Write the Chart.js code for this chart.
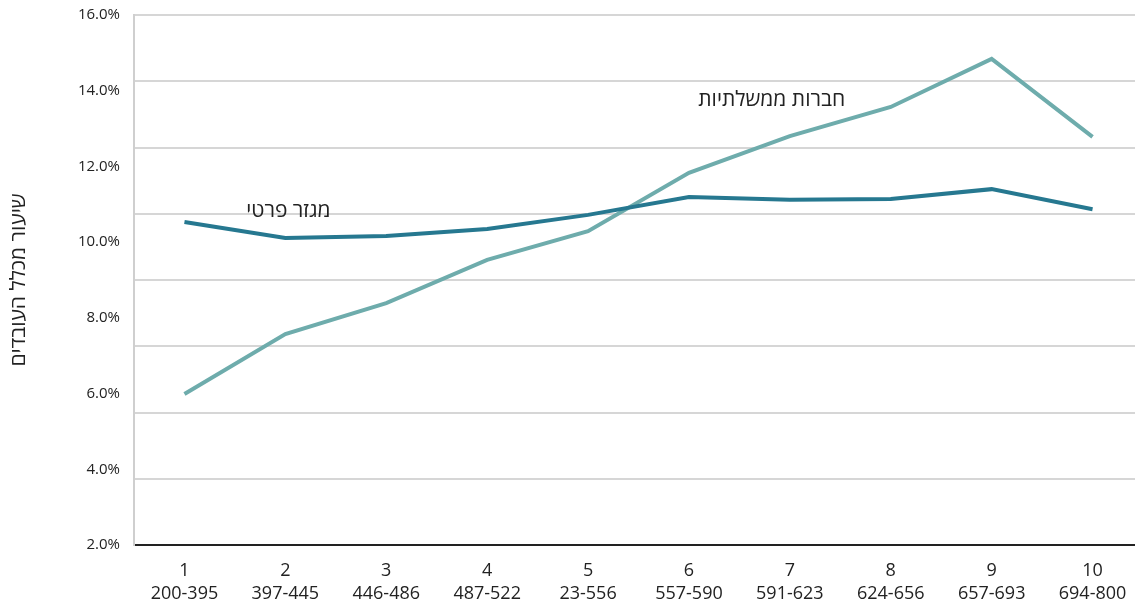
<!DOCTYPE html>
<html>
<head>
<meta charset="utf-8">
<title>שיעור מכלל העובדים</title>
<style>
  html, body { margin: 0; padding: 0; background: #fff; overflow: hidden; }
  #wrap { width: 1145px; height: 604px; }
</style>
</head>
<body>
<div id="wrap"><canvas id="myChart"></canvas></div>
<script src="https://cdn.jsdelivr.net/npm/chart.js"></script>
<script>
// עשירונים וטווחי שכר
const deciles = ['1', '2', '3', '4', '5', '6', '7', '8', '9', '10'];
const ranges = ['200-395', '397-445', '446-486', '487-522', '23-556', '557-590', '591-623', '624-656', '657-693', '694-800'];

// שיעור מכלל העובדים (%)
const privateSector = [10.53, 10.11, 10.16, 10.35, 10.72, 11.19, 11.12, 11.14, 11.40, 10.87];
const govCompanies = [5.99, 7.57, 8.39, 9.53, 10.29, 11.83, 12.80, 13.57, 14.84, 12.78];

const yMin = 2, yMax = 16, labelStep = 2, gridStep = 1.75;

const fontFamily = "'Open Sans', 'DejaVu Sans', sans-serif";

// תוויות הסדרות בתוך הגרף
const seriesNotes = [
  { text: 'חברות ממשלתיות', x: 5.82, y: 13.75 },
  { text: 'מגזר פרטי', x: 1.03, y: 10.82 }
];

const notesPlugin = {
  id: 'notes',
  afterDatasetsDraw(chart) {
    const ctx = chart.ctx;
    const xs = chart.scales.x, ys = chart.scales.y;
    ctx.save();
    ctx.font = '21px ' + fontFamily;
    ctx.fillStyle = '#222';
    ctx.textAlign = 'center';
    ctx.textBaseline = 'middle';
    seriesNotes.forEach(n => {
      ctx.fillText(n.text, xs.getPixelForValue(n.x), ys.getPixelForValue(n.y));
    });
    ctx.restore();
  }
};

const ctx = document.getElementById('myChart');
new Chart(ctx, {
  type: 'line',
  data: {
    labels: deciles.map((d, i) => [d, ranges[i]]),
    datasets: [
      {
        label: 'מגזר פרטי',
        data: privateSector,
        borderColor: '#267890',
        borderWidth: 4,
        pointRadius: 0,
        tension: 0,
        yAxisID: 'y'
      },
      {
        label: 'חברות ממשלתיות',
        data: govCompanies,
        borderColor: '#6eacac',
        borderWidth: 4,
        pointRadius: 0,
        tension: 0,
        yAxisID: 'y'
      }
    ]
  },
  options: {
    responsive: true,
    maintainAspectRatio: false,
    animation: false,
    layout: { padding: { top: 0, right: 2, left: 0, bottom: 0 } },
    plugins: {
      legend: { display: false },
      tooltip: { enabled: false }
    },
    scales: {
      x: {
        offset: true,
        grid: { display: false, drawTicks: false },
        border: { display: true, color: '#222', width: 2 },
        ticks: {
          color: '#222',
          font: { family: fontFamily, size: 18, lineHeight: 1.28 },
          padding: 14,
          maxRotation: 0,
          autoSkip: false
        },
        afterFit(scale) { scale.height = 59; }
      },
      yGrid: {
        position: 'left',
        min: yMin,
        max: yMax,
        grid: { color: '#d6d6d6', lineWidth: 2, drawTicks: false },
        border: { display: true, color: '#cfcfcf', width: 2 },
        ticks: { display: false, stepSize: gridStep },
        afterFit(scale) { scale.width = 0; scale.paddingTop = 0; scale.paddingBottom = 0; }
      },
      y: {
        position: 'left',
        min: yMin,
        max: yMax,
        grid: { display: false, drawTicks: false },
        border: { display: false },
        ticks: {
          stepSize: labelStep,
          color: '#222',
          padding: 14,
          font: { family: fontFamily, size: 15 },
          callback: v => v.toFixed(1) + '%'
        },
        title: {
          display: true,
          text: 'שיעור מכלל העובדים',
          color: '#222',
          font: { family: fontFamily, size: 21 },
          padding: { top: 6, bottom: 0 }
        },
        afterFit(scale) { scale.width = 134; scale.paddingTop = 15; scale.paddingBottom = 0; }
      }
    }
  },
  plugins: [notesPlugin]
});
</script>
</body>
</html>
